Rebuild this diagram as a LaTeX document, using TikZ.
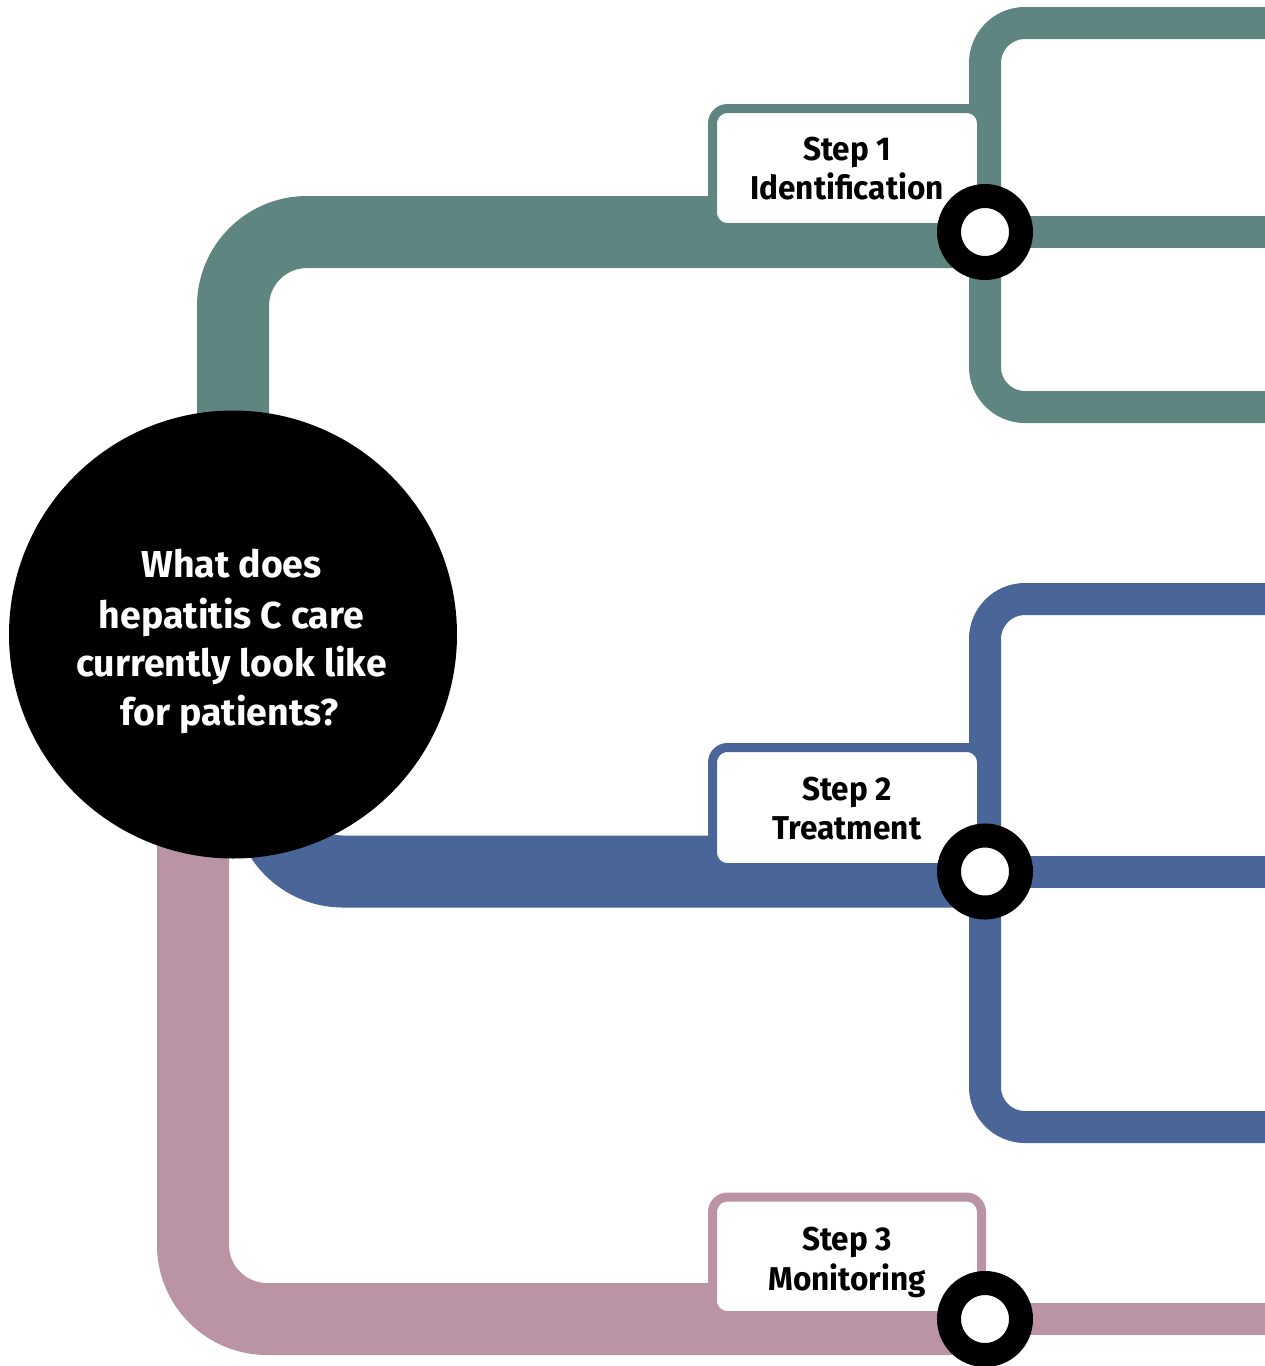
\documentclass[tikz,border=0pt]{standalone}
\usepackage{fontspec}
\setmainfont{Fira Sans}
\newfontfamily\steplabelfont{Fira Sans}[FakeStretch=0.955]
\usetikzlibrary{backgrounds}
\definecolor{hcgreen}{HTML}{5F8580}
\definecolor{hcblue}{HTML}{4A6598}
\definecolor{hcpink}{HTML}{BA93A5}
\begin{document}
\begin{tikzpicture}[x=1pt,y=-1pt,
  thickline/.style={line width=72pt, rounded corners=74pt},
  thinline/.style={line width=32pt, rounded corners=40pt},
  stepbox/.style={draw=#1, fill=white, line width=9pt, rounded corners=15pt, minimum width=269pt, inner sep=0pt},
  steptext/.style={font=\steplabelfont\bfseries\fontsize{33}{39}\selectfont, anchor=base, inner sep=0pt},
  qtext/.style={font=\bfseries\fontsize{37.5}{49}\selectfont, text=white, anchor=base, inner sep=0pt},
  ring/.style={circle, draw=black, fill=white, line width=24pt, minimum size=72pt, inner sep=0pt}]
\useasboundingbox (0,0) rectangle (1265,1366);
% central question
\node[circle, fill=black, minimum size=448pt, inner sep=0pt] (q) at (233,634.5) {};
\node[qtext] (q1) at (231.5,577.5) {What does};
\node[qtext] (q2) at (231.5,628.3) {hepatitis C care};
\node[qtext] (q3) at (231.5,676.8) {currently look like};
\node[qtext] (q4) at (229.5,725.2) {for patients?};
% step boxes
\node[stepbox=hcgreen, minimum height=119pt] (b1) at (847,168) {};
\node[steptext] (s1a) at (847,160) {Step 1};
\node[steptext] (s1b) at (847,199) {Identification};
\node[stepbox=hcblue, minimum height=120pt] (b2) at (847,807.5) {};
\node[steptext] (s2a) at (847,800) {Step 2};
\node[steptext] (s2b) at (847,839) {Treatment};
\node[stepbox=hcpink, minimum height=118.5pt] (b3) at (847,1256.3) {};
\node[steptext] (s3a) at (847,1250) {Step 3};
\node[steptext] (s3b) at (847,1290) {Monitoring};
% rings
\node[ring] (r1) at (985,232) {};
\node[ring] (r2) at (985,871.5) {};
\node[ring] (r3) at (985,1319) {};
% free ends at the right edge
\coordinate (g1) at (1265,23);
\coordinate (g2) at (1265,232);
\coordinate (g3) at (1265,407);
\coordinate (u1) at (1265,599);
\coordinate (u2) at (1265,871.5);
\coordinate (u3) at (1265,1127);
\coordinate (p2) at (1265,1319);
\begin{pgfonlayer}{background}
  \draw[thickline, hcgreen] (q.center) |- (r1.center);
  \draw[thickline, hcblue] ([xshift=36pt]q.center) |- (r2.center);
  \draw[thickline, hcpink] ([xshift=-40pt]q.center) |- (r3.center);
  \draw[thinline, hcgreen] (g1) -| (r1.center) |- (g3);
  \draw[thinline, hcgreen] (r1.center) -- (g2);
  \draw[thinline, hcblue] (u1) -| (r2.center) |- (u3);
  \draw[thinline, hcblue] (r2.center) -- (u2);
  \draw[thinline, hcpink] (r3.center) -- (p2);
\end{pgfonlayer}
\end{tikzpicture}
\end{document}
